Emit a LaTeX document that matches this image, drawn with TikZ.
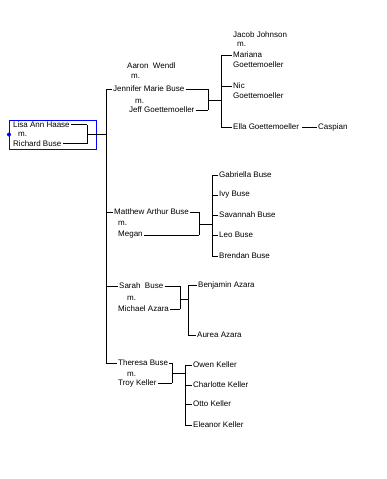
\documentclass[tikz,border=0pt]{standalone}
\usepackage{fontspec}
\setmainfont{Liberation Sans}
\begin{document}
\begin{tikzpicture}[x=1pt,y=-1pt,
  txt/.style={anchor=west,inner sep=0pt,font=\fontsize{8}{9}\selectfont},
  ln/.style={draw=black,line width=0.9pt},
  tick/.style={ln,shorten >=1pt},
  sp/.style={ln,shorten <=1.2pt}]
\useasboundingbox (0,0) rectangle (386,479);
% root
\node[txt] (lisa) at (13,124.5) {Lisa Ann Haase};
\node[txt] (m0) at (18,134) {m.};
\node[txt] (rich) at (13,143.5) {Richard Buse};
\draw[blue,line width=1pt] (9,120) rectangle (96,149);
\fill[blue] (9,134.5) circle (2);
\coordinate (b0) at (87,0);
\coordinate (tr) at (106,0);
\coordinate (rm) at (87,134.5);
\draw[sp] (lisa.east) -- (lisa.east -| b0);
\draw[sp] (rich.east) -- (rich.east -| b0);
\draw[ln] (lisa.east -| b0) -- (rich.east -| b0);
\draw[ln] (rm) -- (rm -| tr);
% trunk
\draw[ln] (106,89) -- (106,363);
% Jennifer family
\node[txt] (aaron) at (127,66) {Aaron\ \ Wendl};
\node[txt] (m1a) at (131,76) {m.};
\node[txt] (jen) at (113,89) {Jennifer Marie Buse};
\node[txt] (m1b) at (135,101) {m.};
\node[txt] (jeff) at (129,110) {Jeff Goettemoeller};
\coordinate (b1) at (208,0);
\coordinate (c1) at (221,0);
\draw[tick] (106,89) -- (jen.west);
\draw[sp] (jen.east) -- (jen.east -| b1);
\draw[sp] (jeff.east) -- (jeff.east -| b1);
\draw[ln] (jen.east -| b1) -- (jeff.east -| b1);
\draw[ln] (208,100) -- (221,100);
\node[txt] (jacob) at (233,35) {Jacob Johnson};
\node[txt] (m1c) at (237,44.5) {m.};
\node[txt] (mari) at (233,55) {Mariana};
\node[txt] (mari2) at (233,64.5) {Goettemoeller};
\node[txt] (nic) at (233,86) {Nic};
\node[txt] (nic2) at (233,96) {Goettemoeller};
\node[txt] (ella) at (233,127) {Ella Goettemoeller};
\node[txt] (casp) at (318,127) {Caspian};
\draw[ln] (mari.west -| c1) -- (ella.west -| c1);
\draw[tick] (mari.west -| c1) -- (mari.west);
\draw[tick] (nic.west -| c1) -- (nic.west);
\draw[tick] (ella.west -| c1) -- (ella.west);
\draw[ln,shorten <=3pt,shorten >=1.5pt] (ella.east) -- (casp.west);
% Matthew family
\node[txt] (matt) at (114,212) {Matthew Arthur Buse};
\node[txt] (m2) at (118,223.5) {m.};
\node[txt] (megan) at (118,235) {Megan};
\coordinate (b2) at (199,0);
\coordinate (c2) at (212,0);
\draw[tick] (106,212) -- (matt.west);
\draw[sp] (matt.east) -- (matt.east -| b2);
\draw[sp] (megan.east) -- (megan.east -| b2);
\draw[ln] (matt.east -| b2) -- (megan.east -| b2);
\draw[ln] (199,224) -- (212,224);
\node[txt] (gab) at (219,175) {Gabriella Buse};
\node[txt] (ivy) at (219,195) {Ivy Buse};
\node[txt] (sav) at (219,215) {Savannah Buse};
\node[txt] (leo) at (219,235) {Leo Buse};
\node[txt] (bren) at (219,256) {Brendan Buse};
\draw[ln] (gab.west -| c2) -- (bren.west -| c2);
\foreach \n in {gab,ivy,sav,leo,bren} \draw[tick] (\n.west -| c2) -- (\n.west);
% Sarah family
\node[txt] (sarah) at (119,286) {Sarah\ \ Buse};
\node[txt] (m3) at (127,298) {m.};
\node[txt] (mich) at (118,309) {Michael Azara};
\coordinate (b3) at (180,0);
\coordinate (c3) at (188,0);
\draw[tick] (106,286) -- (sarah.west);
\draw[sp] (sarah.east) -- (sarah.east -| b3);
\draw[sp] (mich.east) -- (mich.east -| b3);
\draw[ln] (sarah.east -| b3) -- (mich.east -| b3);
\draw[ln] (180,299) -- (188,299);
\node[txt] (benj) at (198,285) {Benjamin Azara};
\node[txt] (aurea) at (197,335) {Aurea Azara};
\draw[ln] (benj.west -| c3) -- (aurea.west -| c3);
\draw[tick] (benj.west -| c3) -- (benj.west);
\draw[tick] (aurea.west -| c3) -- (aurea.west);
% Theresa family
\node[txt] (ther) at (118,363) {Theresa Buse};
\node[txt] (m4) at (127,374) {m.};
\node[txt] (troy) at (118,383) {Troy Keller};
\coordinate (b4) at (172,0);
\coordinate (c4) at (185,0);
\draw[tick] (106,363) -- (ther.west);
\draw[sp] (ther.east) -- (ther.east -| b4);
\draw[sp] (troy.east) -- (troy.east -| b4);
\draw[ln] (ther.east -| b4) -- (troy.east -| b4);
\draw[ln] (172,373) -- (185,373);
\node[txt] (owen) at (193,365) {Owen Keller};
\node[txt] (char) at (193,385) {Charlotte Keller};
\node[txt] (otto) at (193,404) {Otto Keller};
\node[txt] (elea) at (193,425) {Eleanor Keller};
\draw[ln] (owen.west -| c4) -- (elea.west -| c4);
\foreach \n in {owen,char,otto,elea} \draw[tick] (\n.west -| c4) -- (\n.west);
\end{tikzpicture}
\end{document}
